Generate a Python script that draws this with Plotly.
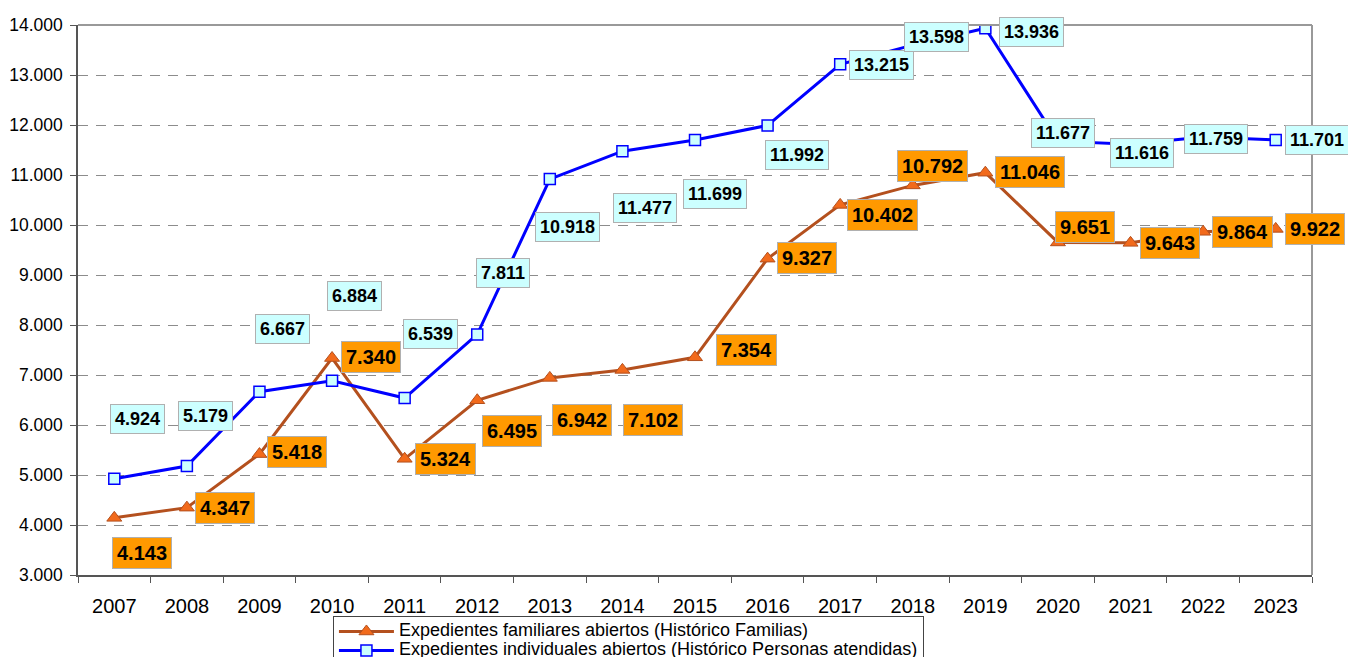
import plotly.graph_objects as go

# data
years = [str(y) for y in range(2007, 2024)]
familias = [4143, 4347, 5418, 7340, 5324, 6495, 6942, 7102, 7354,
            9327, 10402, 10792, 11046, 9651, 9643, 9864, 9922]
personas = [4924, 5179, 6667, 6884, 6539, 7811, 10918, 11477, 11699,
            11992, 13215, 13598, 13936, 11677, 11616, 11759, 11701]
y_ticks = list(range(3000, 15000, 1000))

name_fam = "Expedientes familiares abiertos (Histórico Familias)"
name_per = "Expedientes individuales abiertos (Histórico Personas atendidas)"

# label offsets in pixels (dx right, dy down) as placed in the original
fam_dx = [28, 38, 38, 39, 41, 35, 32, 31, 51, 39, 42, 20, 45, 27, 39, 39, 39]
fam_dy = [35, 0, -2, -1, 0, 31, 42, 50, -7, -1, 10, -19, -1, -15, 0, 0, 0]
per_dx = [23, 19, 23, 22, 26, 26, 18, 23, 20, 29, 41, 24, 46, 5, 11, 13, 41]
per_dy = [-60, -50, -63, -85, -64, -61, 48, 57, 54, 30, 1, -8, 4, -8, 9, 2, 0]

font = "Liberation Sans, Arial, sans-serif"


def legend_text(s):
    # wide text but tight rows, like the squeezed Excel legend
    return '<span style="font-size:18px">' + s + '</span>'


fig = go.Figure()

fig.add_trace(go.Scatter(
    x=years, y=familias, name=legend_text(name_fam), mode="lines+markers",
    line=dict(color="#B4501E", width=3),
    marker=dict(symbol="triangle-up", size=13, color="#F26A1B",
                line=dict(color="#B4501E", width=1)),
))
fig.add_trace(go.Scatter(
    x=years, y=personas, name=legend_text(name_per), mode="lines+markers",
    line=dict(color="#0000FF", width=3),
    marker=dict(symbol="square", size=11, color="#CCFFFF",
                line=dict(color="#0000FF", width=1.5)),
))


def fmt(v):
    return f"{v:,}".replace(",", ".")


# value labels, boxed like the Excel data labels
for i in range(len(years)):
    fig.add_annotation(
        x=i, y=familias[i], xref="x", yref="y",
        xshift=fam_dx[i], yshift=-fam_dy[i],
        text="<b>" + fmt(familias[i]) + "</b>", showarrow=False,
        font=dict(family=font, size=20, color="black"),
        bgcolor="#FF9900", bordercolor="#B0B0B0", borderwidth=1, borderpad=4,
    )
    fig.add_annotation(
        x=i, y=personas[i], xref="x", yref="y",
        xshift=per_dx[i], yshift=-per_dy[i],
        text="<b>" + fmt(personas[i]) + "</b>", showarrow=False,
        font=dict(family=font, size=18, color="black"),
        bgcolor="#CCFFFF", bordercolor="#B0B0B0", borderwidth=1, borderpad=4,
    )

# page body adds 8px around the figure
fig.update_layout(
    width=1348, height=649,
    margin=dict(l=70, r=44, t=17, b=82, autoexpand=False),
    paper_bgcolor="white", plot_bgcolor="white",
    separators=",.",
    font=dict(family=font, size=19, color="black"),
    showlegend=True,
    legend=dict(
        x=0.2066, y=-0.0745, xanchor="left", yanchor="top",
        bgcolor="white", bordercolor="#444444", borderwidth=1,
        font=dict(family=font, size=12, color="black"),
        tracegroupgap=0, itemwidth=55,
    ),
    shapes=[
        dict(type="line", xref="paper", yref="paper", x0=0, x1=1, y0=1, y1=1,
             line=dict(color="#999999", width=2)),
        dict(type="line", xref="paper", yref="paper", x0=1, x1=1, y0=0, y1=1,
             line=dict(color="#999999", width=2)),
    ],
)

fig.update_xaxes(
    type="category", range=[-0.5, 16.5], automargin=False,
    showline=True, linecolor="#555555", linewidth=1.5,
    ticks="outside", tickson="boundaries", ticklen=6, tickcolor="#555555",
    showgrid=False, ticklabelstandoff=12,
    tickfont=dict(family=font, size=20),
)
fig.update_yaxes(
    range=[3000, 14000], tickvals=y_ticks, tickformat=",.0f", automargin=False,
    showline=True, linecolor="#555555", linewidth=1.5,
    ticks="outside", ticklen=6, tickcolor="#555555",
    showgrid=True, gridcolor="#8C8C8C", gridwidth=1, griddash="10px,8px",
    zeroline=False, ticklabelstandoff=4,
    tickfont=dict(family=font, size=17.5),
)

fig.write_html("out.html")
